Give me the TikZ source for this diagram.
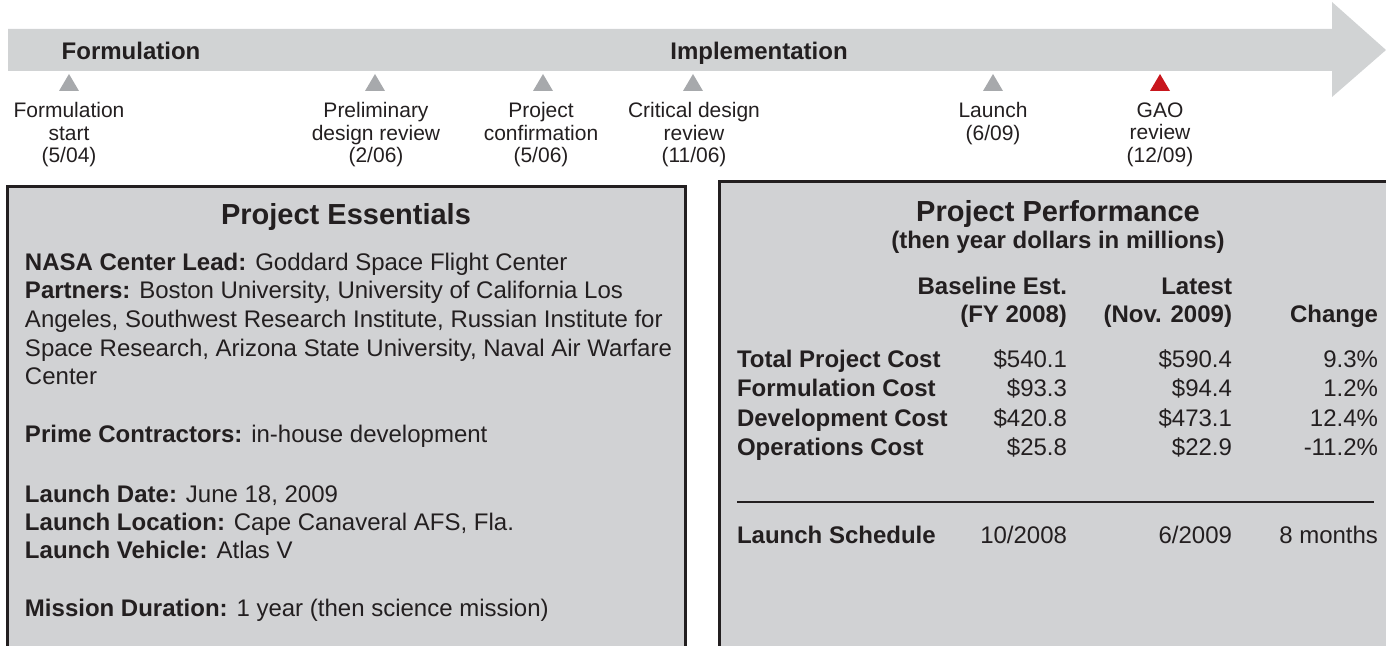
\documentclass[tikz,border=0pt]{standalone}
\usepackage{fontspec}
\setmainfont{Liberation Sans}
\definecolor{bandgray}{HTML}{D1D3D4}
\definecolor{boxgray}{HTML}{D1D2D4}
\definecolor{markgray}{HTML}{A7A9AC}
\definecolor{gaored}{HTML}{C8161D}
\definecolor{ink}{HTML}{231F20}
\begin{document}
\begin{tikzpicture}[x=0.5pt,y=-0.5pt,
  every node/.style={inner sep=0pt, outer sep=0pt, text=ink},
  phase/.style={anchor=base, font=\bfseries\fontsize{12}{14.4}\selectfont},
  mlabel/.style={anchor=north, align=center, font=\fontsize{10.5}{11.25}\selectfont},
  boxtitle/.style={anchor=base, font=\bfseries\fontsize{14.5}{17}\selectfont},
  body/.style={anchor=base west, font=\fontsize{12}{14.4}\selectfont},
  bodyb/.style={anchor=base west, font=\bfseries\fontsize{12}{14.4}\selectfont},
  numr/.style={anchor=base east, font=\fontsize{12}{14.4}\selectfont},
  headr/.style={anchor=base east, font=\bfseries\fontsize{12}{14.4}\selectfont},
  panelfill/.style={fill=boxgray},
  panelline/.style={draw=ink, line width=1.5pt},
  mk/.style={fill=markgray},
]
\useasboundingbox (0,0) rectangle (1386,646);
\clip (0,0) rectangle (1386,646);

% timeline arrow
\fill[bandgray] (8,29) -- (1332,29) -- (1332,2) -- (1386,50) -- (1332,97) -- (1332,71) -- (8,71) -- cycle;
\node[phase] (formulation) at (131,60) {Formulation};
\node[phase] (implementation) at (759,60) {Implementation};

% markers
\foreach \x in {69,375,543,693,993} {
  \fill[mk] (\x-10,91) -- (\x+10,91) -- (\x,74) -- cycle;
}
\fill[gaored] (1150,91) -- (1170,91) -- (1160,74) -- cycle;

\node[mlabel] (m1) at (69,102.5) {Formulation\\start\\(5/04)};
\node[mlabel] (m2) at (376,102.5) {Preliminary\\design review\\(2/06)};
\node[mlabel] (m3) at (541,102.5) {Project\\confirmation\\(5/06)};
\node[mlabel] (m4) at (694,102.5) {Critical design\\review\\(11/06)};
\node[mlabel] (m5) at (993,102.5) {Launch\\(6/09)};
\node[mlabel] (m6) at (1160,102.5) {GAO\\review\\(12/09)};

% left panel
\fill[panelfill] (7.5,186.3) rectangle (685,700);
\draw[panelline] (7.5,700) -- (7.5,186.3) -- (685,186.3) -- (685,700);
\node[boxtitle] (esstitle) at (346,225) {Project Essentials};
\node[body] (e1) at (25,271) {\textbf{NASA Center Lead:} Goddard Space Flight Center};
\node[body] (e2) at (25,299) {\textbf{Partners:} Boston University, University of California Los};
\node[body] (e3) at (25,328) {Angeles, Southwest Research Institute, Russian Institute for};
\node[body] (e4) at (25,357) {Space Research, Arizona State University, Naval Air Warfare};
\node[body] (e5) at (25,385) {Center};
\node[body] (e6) at (25,443) {\textbf{Prime Contractors:} in-house development};
\node[body] (e7) at (25,502) {\textbf{Launch Date:} June 18, 2009};
\node[body] (e8) at (25,530) {\textbf{Launch Location:} Cape Canaveral AFS, Fla.};
\node[body] (e9) at (25,558) {\textbf{Launch Vehicle:} Atlas V};
\node[body] (e10) at (25,616) {\textbf{Mission Duration:} 1 year (then science mission)};

% right panel
\fill[panelfill] (719.5,181.5) rectangle (1400,700);
\draw[panelline] (719.5,700) -- (719.5,181.5) -- (1400,181.5);
\node[boxtitle] (perftitle) at (1058,222) {Project Performance};
\node[phase] (perfsub) at (1058,249) {(then year dollars in millions)};

\node[headr] (h1a) at (1067,295) {Baseline Est.};
\node[headr] (h1b) at (1067,323) {(FY 2008)};
\node[headr] (h2a) at (1232,295) {Latest};
\node[headr] (h2b) at (1232,323) {(Nov. 2009)};
\node[headr] (h3) at (1378,323) {Change};

\node[bodyb] (r1) at (737,368) {Total Project Cost};
\node[bodyb] (r2) at (737,397) {Formulation Cost};
\node[bodyb] (r3) at (737,427) {Development Cost};
\node[bodyb] (r4) at (737,455) {Operations Cost};
\node[bodyb] (r5) at (737,543) {Launch Schedule};

\node[numr] (b1) at (1067,368) {\$540.1};
\node[numr] (b2) at (1067,397) {\$93.3};
\node[numr] (b3) at (1067,427) {\$420.8};
\node[numr] (b4) at (1067,455) {\$25.8};
\node[numr] (b5) at (1067,543) {10/2008};

\node[numr] (l1) at (1232,368) {\$590.4};
\node[numr] (l2) at (1232,397) {\$94.4};
\node[numr] (l3) at (1232,427) {\$473.1};
\node[numr] (l4) at (1232,455) {\$22.9};
\node[numr] (l5) at (1232,543) {6/2009};

\node[numr] (c1) at (1378,368) {9.3\%};
\node[numr] (c2) at (1378,397) {1.2\%};
\node[numr] (c3) at (1378,427) {12.4\%};
\node[numr] (c4) at (1378,455) {-11.2\%};
\node[numr] (c5) at (1378,543) {8 months};

\coordinate (rulel) at (737,502);
\coordinate (ruler) at (1374,502);
\draw[ink, line width=0.65pt] (rulel) -- (ruler);
\end{tikzpicture}
\end{document}
